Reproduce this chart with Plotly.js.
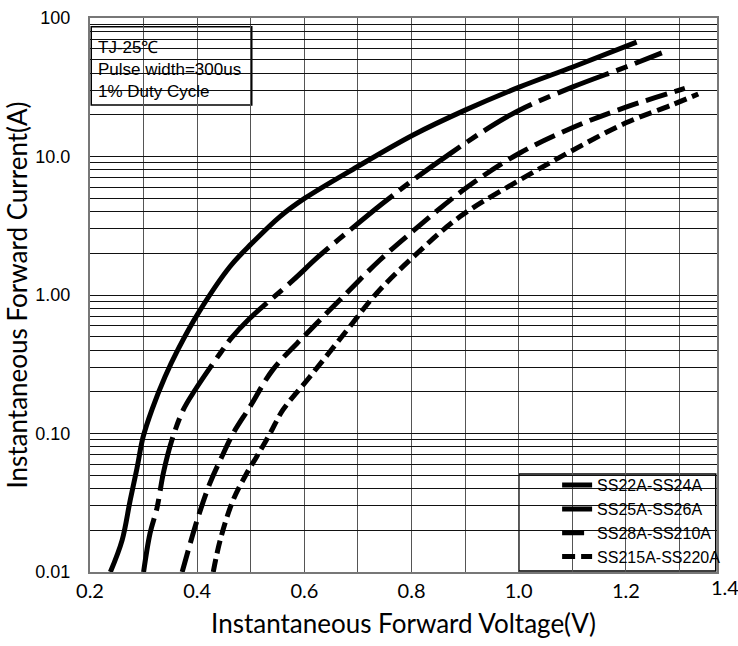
<!DOCTYPE html>
<html>
<head>
<meta charset="utf-8">
<script src="https://cdn.plot.ly/plotly-3.0.1.min.js"></script>
<style>html,body{margin:0;padding:0;background:#fff;}#chart{width:738px;height:646px;}</style>
</head>
<body>
<div id="chart"></div>
<script>
// Series names
const seriesNames = ["SS22A-SS24A", "SS25A-SS26A", "SS28A-SS210A", "SS215A-SS220A"];

// Forward voltage (V) and current (A)
const V1 = [0.238, 0.26, 0.275, 0.288, 0.299, 0.316, 0.34, 0.365, 0.402, 0.461, 0.502, 0.554, 0.601, 0.698, 0.803, 0.901, 1.002, 1.101, 1.22];
const I1 = [0.01, 0.017, 0.033, 0.057, 0.094, 0.15, 0.257, 0.41, 0.74, 1.60, 2.36, 3.67, 5.0, 8.4, 14.3, 21.7, 31.8, 44.3, 67];

const V2 = [0.300, 0.312, 0.325, 0.337, 0.353, 0.374, 0.396, 0.443, 0.464, 0.495, 0.579, 0.626, 0.685, 0.744, 0.803, 0.872, 0.946, 1.002, 1.101, 1.2, 1.267];
const I2 = [0.01, 0.019, 0.029, 0.052, 0.09, 0.148, 0.206, 0.38, 0.49, 0.66, 1.28, 1.89, 2.94, 4.52, 6.77, 10.5, 16.3, 21.7, 31.8, 44.3, 56];

const V3 = [0.372, 0.40, 0.424, 0.446, 0.467, 0.498, 0.541, 0.605, 0.666, 0.741, 0.803, 0.901, 1.002, 1.101, 1.2, 1.31];
const I3 = [0.01, 0.0237, 0.044, 0.068, 0.10, 0.155, 0.288, 0.53, 0.92, 1.79, 2.9, 5.9, 10.6, 16.2, 22.7, 31];

const V4 = [0.43, 0.443, 0.467, 0.493, 0.511, 0.536, 0.56, 0.61, 0.68, 0.735, 0.803, 0.890, 1.002, 1.101, 1.2, 1.286, 1.335];
const I4 = [0.01, 0.017, 0.033, 0.052, 0.068, 0.10, 0.148, 0.256, 0.56, 1.03, 1.88, 3.67, 6.77, 11.1, 17.5, 23.6, 28.3];

// Axis ticks
const xGridVals = [0.2, 0.3, 0.4, 0.5, 0.6, 0.7, 0.8, 0.9, 1.0, 1.1, 1.2, 1.3];
const xGridText = ["0.2", "", "0.4", "", "0.6", "", "0.8", "", "1.0", "", "1.2", ""];
const xLastLabel = "1.4";
const yDecades = [0.01, 0.1, 1, 10];
const yMultipliers = [1, 2, 3, 4, 5, 6, 7, 8, 9];
const yMajorVals = [0.01, 0.1, 1, 10, 100];
const yMajorText = ["0.01", "0.10", "1.00", "10.0", "100"];

const annText = "TJ-25℃<br>Pulse width=300us<br>1% Duty Cycle";

// build y grid ticks
const yTickVals = [];
const yTickText = [];
yDecades.forEach(d => {
  yMultipliers.forEach(m => {
    const v = +(d * m).toPrecision(3);
    yTickVals.push(v);
    const idx = yMajorVals.indexOf(v);
    yTickText.push(idx >= 0 ? yMajorText[idx] : "");
  });
});
yTickVals.push(100);
yTickText.push("100");

const dashes = ["solid", "55px,8px,12px,8px", "22px,8px", "13px,6px"];
const Vs = [V1, V2, V3, V4];
const Is = [I1, I2, I3, I4];

const traces = seriesNames.map((name, i) => ({
  x: Vs[i], y: Is[i], name: name, type: "scatter", mode: "lines",
  line: {color: "#000", width: 5, dash: dashes[i], shape: "spline", smoothing: 1},
  cliponaxis: true
}));

const layout = {
  width: 738, height: 646,
  margin: {l: 90, r: 21, t: 18, b: 74, pad: 0},
  paper_bgcolor: "#fff", plot_bgcolor: "#fff",
  showlegend: true,
  font: {family: "Liberation Sans, Arial, sans-serif", color: "#000"},
  xaxis: {
    range: [0.2, 1.37], tickmode: "array", tickvals: xGridVals, ticktext: xGridText,
    showgrid: true, gridcolor: "#555", gridwidth: 1, zeroline: false,
    showline: true, mirror: true, linecolor: "#777", linewidth: 2,
    ticks: "", ticklabelstandoff: 0,
    tickfont: {family: "Lato, sans-serif", size: 20, color: "#000"},
    title: {text: "Instantaneous Forward Voltage(V)", font: {family: "Lato, sans-serif", size: 26, color: "#000"}, standoff: 14},
    automargin: false
  },
  yaxis: {
    type: "log", range: [-2, 2], tickmode: "array", tickvals: yTickVals, ticktext: yTickText,
    showgrid: true, gridcolor: "#111", gridwidth: 1, zeroline: false,
    showline: true, mirror: true, linecolor: "#777", linewidth: 2,
    ticks: "", ticklabelstandoff: 14,
    tickfont: {family: "Liberation Sans, Arial, sans-serif", size: 18, color: "#000"},
    title: {text: "Instantaneous Forward Current(A)", font: {family: "Lato, sans-serif", size: 26, color: "#000"}, standoff: 0},
    automargin: false
  },
  legend: {
    x: 0.745, xanchor: "left", y: -0.004, yanchor: "bottom",
    bgcolor: "rgba(0,0,0,0)", borderwidth: 0,
    font: {family: "Liberation Sans, Arial, sans-serif", size: 16, color: "#000"}
  },
  shapes: [
    {type: "rect", xref: "paper", yref: "paper", x0: 0.002, x1: 0.258, y0: 0.843, y1: 0.984,
     fillcolor: "#fff", line: {color: "#000", width: 1.5}, layer: "between"},
    {type: "rect", xref: "paper", yref: "paper", x0: 0.684, x1: 0.998, y0: 0.002, y1: 0.177,
     fillcolor: "#fff", line: {color: "#000", width: 1.5}, layer: "between"}
  ],
  annotations: [
    {xref: "paper", yref: "paper", x: 0.01, y: 0.968, xanchor: "left", yanchor: "top",
     text: annText, showarrow: false, align: "left",
     font: {family: "Liberation Sans, Arial, sans-serif", size: 17, color: "#000"}},
    {xref: "paper", yref: "paper", x: 1.013, y: 0, xanchor: "center", yanchor: "top", yshift: -1,
     text: xLastLabel, showarrow: false,
     font: {family: "Lato, sans-serif", size: 20, color: "#000"}}
  ]
};

Plotly.newPlot("chart", traces, layout, {staticPlot: true, displayModeBar: false});
</script>
</body>
</html>
